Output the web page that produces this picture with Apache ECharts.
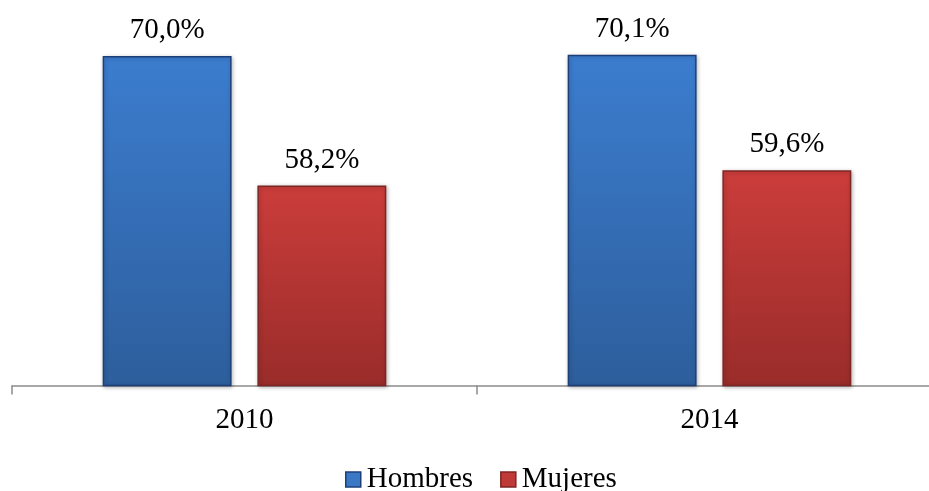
<!DOCTYPE html>
<html><head><meta charset="utf-8">
<script src="https://cdn.jsdelivr.net/npm/echarts@6/dist/echarts.min.js"></script>
<style>html,body{margin:0;padding:0;background:#fff}#c{width:929px;height:491px}</style>
</head><body><div id="c"></div>
<script>
const categories = ['2010', '2014'];
const hombres = [70.0, 70.1];
const mujeres = [58.2, 59.6];
const seriesNames = ['Hombres', 'Mujeres'];

const chart = echarts.init(document.getElementById('c'));
const font = '"Liberation Serif", "Times New Roman", serif';
const fmt = p => p.value.toFixed(1).replace('.', ',') + '%';
function grad(top, bottom) {
  return new echarts.graphic.LinearGradient(0, 0, 0, 1, [{offset: 0, color: top}, {offset: 1, color: bottom}]);
}
chart.setOption({
  animation: false,
  grid: {left: 12, width: 930, top: 1, height: 384.5, containLabel: false, outerBoundsMode: 'none'},
  legend: {
    bottom: -8, left: 340, itemWidth: 15, itemHeight: 15, itemGap: 27,
    textStyle: {fontFamily: font, fontSize: 29, color: '#000', padding: [0, 0, 0, 1]},
    data: [
      {name: seriesNames[0], icon: 'rect', itemStyle: {color: '#3a78c6', borderColor: '#1c3f78', borderWidth: 1.5}},
      {name: seriesNames[1], icon: 'rect', itemStyle: {color: '#c03a38', borderColor: '#7e2624', borderWidth: 1.5}}
    ]
  },
  xAxis: {
    type: 'category', data: categories,
    axisLine: {lineStyle: {color: '#8c8c8c', width: 1.5}},
    axisTick: {show: true, length: 9, lineStyle: {color: '#8c8c8c', width: 1.5}},
    axisLabel: {fontFamily: font, fontSize: 29, color: '#000', margin: 20}
  },
  yAxis: {type: 'value', min: 40, max: 75, show: false, splitLine: {show: false}},
  series: [
    {
      name: seriesNames[0], type: 'bar', data: hombres, barGap: '20%', barCategoryGap: '39%',
      itemStyle: {color: grad('#3c7dcf', '#2d5e9c'), borderColor: '#1c3f78', borderWidth: 1.5,
        shadowColor: 'rgba(0,0,0,0.25)', shadowBlur: 4, shadowOffsetX: 1, shadowOffsetY: 1},
      label: {show: true, position: 'top', distance: 11, formatter: fmt, fontFamily: font, fontSize: 29, color: '#000'}
    },
    {
      name: seriesNames[1], type: 'bar', data: mujeres,
      itemStyle: {color: grad('#cb3d3b', '#992c2a'), borderColor: '#7e2624', borderWidth: 1.5,
        shadowColor: 'rgba(0,0,0,0.25)', shadowBlur: 4, shadowOffsetX: 1, shadowOffsetY: 1},
      label: {show: true, position: 'top', distance: 11, formatter: fmt, fontFamily: font, fontSize: 29, color: '#000'}
    }
  ]
});
</script></body></html>
